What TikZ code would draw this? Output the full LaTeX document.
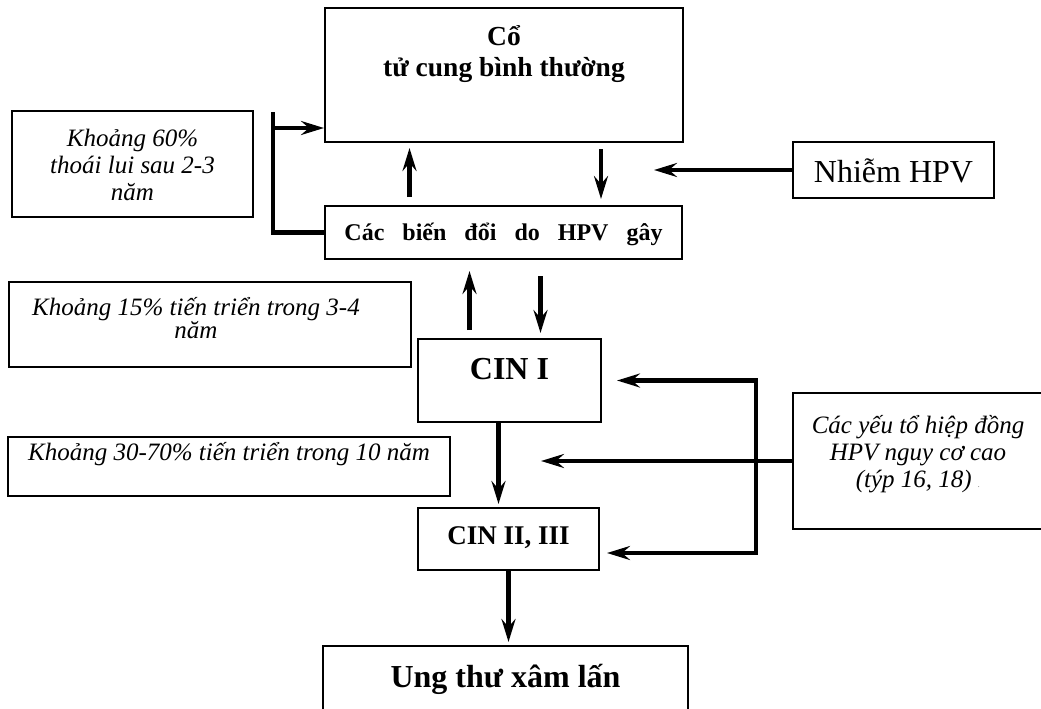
\documentclass[tikz,border=0pt]{standalone}
\usepackage{fontspec}
\setmainfont{Liberation Serif}
\usetikzlibrary{arrows.meta,positioning,calc}

\begin{document}
\begin{tikzpicture}[x=1pt,y=-1pt,
  >={Stealth[length=23pt,width=14pt,inset=8pt]},
  box/.style={draw,line width=2pt,inner sep=0pt,align=center,anchor=base},
  note/.style={box,font=\itshape\fontsize{25}{27}\selectfont},
  flow/.style={line width=4.5pt,->},
  bar/.style={line width=4.5pt}]

  \useasboundingbox (0,0) rectangle (1041,709);

  % Stages
  \node[box,font=\bfseries\fontsize{27.5}{32}\selectfont,minimum width=358pt,
    text height=69pt,text depth=65pt] (normal) at (504,77)
    {Cổ\\tử cung bình thường};
  \node[box,font=\bfseries\fontsize{24}{28}\selectfont,
    minimum width=357pt,text height=34pt,text depth=19pt] (change) at (503.5,240)
    {\spaceskip=18pt\relax Các biến đổi do HPV gây};
  \node[box,font=\fontsize{32}{36}\selectfont,minimum width=201pt,
    text height=40pt,text depth=16pt] (hpv) at (893.5,182) {Nhiễm HPV};
  \node[box,font=\bfseries\fontsize{32}{36}\selectfont,minimum width=183pt,
    text height=40pt,text depth=43pt] (cin1) at (509.5,379) {CIN I};
  \node[box,font=\bfseries\fontsize{27}{31}\selectfont,minimum width=181pt,
    text height=36pt,text depth=26pt] (cin2) at (508.5,544) {CIN II, III};
  \node[box,font=\bfseries\fontsize{32}{36}\selectfont,minimum width=365pt,
    text height=41pt,text depth=28pt] (cancer) at (505.5,687) {Ung thư xâm lấn};

  % Notes
  \node[note,minimum width=241pt,text height=89pt,text depth=17pt] (regress)
    at (132.5,200) {Khoảng 60\%\\thoái lui sau 2-3\\năm};
  \node[note,font=\itshape\fontsize{25}{22}\selectfont,minimum width=402pt,
    text height=33pt,text depth=52pt] (slow) at (210,315)
    {\parbox[t]{374pt}{\centering Khoảng 15\% tiến triển trong 3-4\\năm}\hspace{28pt}};
  \node[note,minimum width=442pt,text height=23pt,text depth=36pt] (fast)
    at (229,460) {Khoảng 30-70\% tiến triển trong 10 năm};
  \node[note,minimum width=250pt,text height=94pt,text depth=42pt] (cofactor)
    at (918,487) {Các yếu tổ hiệp đồng\\HPV nguy cơ cao\\(týp 16, 18)
    \textcolor{gray}{\fontsize{9}{9}\selectfont .}};

  % Infection
  \draw[flow] (hpv.west) -- ++(-138,0);

  % Regression bracket
  \coordinate (leftBar) at (273,112);
  \draw[bar] (leftBar) |- (change.west);
  \draw[flow] ([yshift=-16pt]leftBar) -- ([yshift=-16pt]leftBar -| normal.west);

  % Normal <-> HPV changes
  \draw[flow,shorten <=8pt,shorten >=5pt] ([xshift=-94pt]change.north)
    -- ([xshift=-94pt]change.north |- normal.south);
  \draw[flow,shorten <=6pt,shorten >=6pt] ([xshift=97pt]normal.south)
    -- ([xshift=97pt]normal.south |- change.north);

  % HPV changes <-> CIN I
  \draw[flow,shorten <=8pt,shorten >=11pt] ([xshift=-40pt]cin1.north)
    -- ([xshift=-40pt]cin1.north |- change.south);
  \draw[flow,shorten <=16pt,shorten >=5pt] ([xshift=31pt]cin1.north |- change.south)
    -- ([xshift=31pt]cin1.north);

  % Progression
  \draw[flow,shorten >=3pt] ([xshift=-11pt]cin1.south)
    -- ([xshift=-11pt]cin1.south |- cin2.north);
  \draw[flow,shorten >=3pt] (cin2.south) -- (cin2.south |- cancer.north);

  % Cofactors
  \coordinate (rightBar) at (756,0);
  \draw[bar,<->,shorten <=15pt,shorten >=7pt] (cin1.east) -- (cin1.east -| rightBar)
    |- ([yshift=-14pt]cin2.east);
  \draw[flow] (cofactor.west) -- ++(-251,0);
\end{tikzpicture}
\end{document}
